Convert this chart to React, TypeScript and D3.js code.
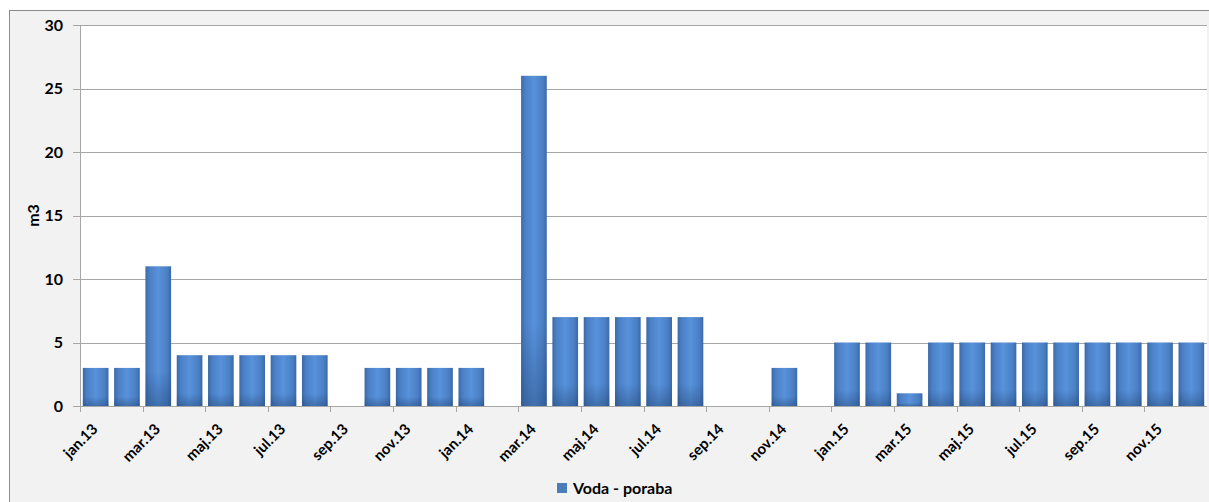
import React from "react";
import * as d3 from "d3";

const months = [
  "jan.13", "feb.13", "mar.13", "apr.13", "maj.13", "jun.13", "jul.13", "avg.13", "sep.13", "okt.13", "nov.13", "dec.13",
  "jan.14", "feb.14", "mar.14", "apr.14", "maj.14", "jun.14", "jul.14", "avg.14", "sep.14", "okt.14", "nov.14", "dec.14",
  "jan.15", "feb.15", "mar.15", "apr.15", "maj.15", "jun.15", "jul.15", "avg.15", "sep.15", "okt.15", "nov.15", "dec.15",
];

const poraba = [
  3, 3, 11, 4, 4, 4, 4, 4, 0, 3, 3, 3,
  3, 0, 26, 7, 7, 7, 7, 7, 0, 0, 3, 0,
  5, 5, 1, 5, 5, 5, 5, 5, 5, 5, 5, 5,
];

const yTicks = [0, 5, 10, 15, 20, 25, 30];
const seriesName = "Voda - poraba";
const axisTitle = "m3";

const W = 1209;
const H = 502;
const M = { left: 80, right: 1207, top: 25, bottom: 406 };
const FONT = "Lato, 'Open Sans', sans-serif";

export default function App() {
  const x = d3
    .scaleBand<string>()
    .domain(months)
    .range([M.left, M.right])
    .paddingInner(0.18)
    .paddingOuter(0.09);
  const step = x.step();
  const y = d3.scaleLinear().domain([0, 30]).range([M.bottom, M.top]);

  const tickIdx = months.map((_, i) => i).filter((i) => i % 2 === 0);

  return (
    <svg
      width={W}
      height={H}
      style={{ position: "absolute", left: 0, top: 0, fontFamily: FONT }}
    >
      <defs>
        <linearGradient id="barH" x1="0" x2="1" y1="0" y2="0">
          <stop offset="0" stopColor="#3a69a8" />
          <stop offset="0.15" stopColor="#4a7fc4" />
          <stop offset="0.5" stopColor="#5892db" />
          <stop offset="0.85" stopColor="#4a7fc4" />
          <stop offset="1" stopColor="#3a69a8" />
        </linearGradient>
        <linearGradient id="barV" x1="0" x2="0" y1="0" y2="1">
          <stop offset="0" stopColor="#1f3f6e" stopOpacity="0" />
          <stop offset="0.75" stopColor="#1f3f6e" stopOpacity="0" />
          <stop offset="1" stopColor="#1f3f6e" stopOpacity="0.4" />
        </linearGradient>
      </defs>

      <rect x={9.5} y={10.5} width={W + 10} height={H + 10} fill="#f2f2f2" stroke="#8c8c8c" strokeWidth={1} />
      <rect x={M.left} y={M.top} width={M.right - M.left} height={M.bottom - M.top} fill="#ffffff" />

      {yTicks.map((t) => (
        <g key={t}>
          {t > 0 && (
            <line x1={M.left} x2={M.right} y1={Math.round(y(t)) + 0.5} y2={Math.round(y(t)) + 0.5} stroke="#a6a6a6" strokeWidth={1} />
          )}
          <line x1={M.left - 7} x2={M.left} y1={Math.round(y(t)) + 0.5} y2={Math.round(y(t)) + 0.5} stroke="#a6a6a6" strokeWidth={1} />
          <text x={63} y={y(t)} dy="0.35em" textAnchor="end" fontSize={16} fontWeight="bold" fill="#000">
            {t}
          </text>
        </g>
      ))}

      {poraba.map((v, i) =>
        v > 0 ? (
          <g key={months[i]}>
            <rect x={x(months[i])} y={y(v)} width={x.bandwidth()} height={y(0) - y(v)} fill="url(#barH)" />
            <rect x={x(months[i])} y={y(v)} width={x.bandwidth()} height={y(0) - y(v)} fill="url(#barV)" />
          </g>
        ) : null
      )}

      <line x1={M.left + 0.5} x2={M.left + 0.5} y1={M.top} y2={M.bottom} stroke="#a6a6a6" />
      <line x1={M.left} x2={M.right} y1={M.bottom + 0.5} y2={M.bottom + 0.5} stroke="#a6a6a6" />

      {tickIdx.map((i) => {
        const bx = Math.round(M.left + i * step) + 0.5;
        return <line key={"t" + i} x1={bx} x2={bx} y1={M.bottom} y2={M.bottom + 6} stroke="#a6a6a6" />;
      })}

      {tickIdx.map((i) => {
        const cx = (x(months[i]) as number) + x.bandwidth() / 2;
        return (
          <g key={"l" + i} transform={`translate(${cx + 3},${M.bottom + 24})`}>
            <text transform="rotate(-45)" textAnchor="end" fontSize={15} fontWeight="bold" fill="#000">
              {months[i]}
            </text>
          </g>
        );
      })}

      <g transform={`translate(39,${(M.top + M.bottom) / 2})`}>
        <text transform="rotate(-90)" textAnchor="middle" fontSize={16} fontWeight="bold" fill="#000">
          {axisTitle}
        </text>
      </g>

      <rect x={557} y={483} width={10} height={10} fill="#4a7ebb" />
      <text x={573} y={488} dy="0.35em" fontSize={16} fontWeight="bold" fill="#000">
        {seriesName}
      </text>
    </svg>
  );
}
